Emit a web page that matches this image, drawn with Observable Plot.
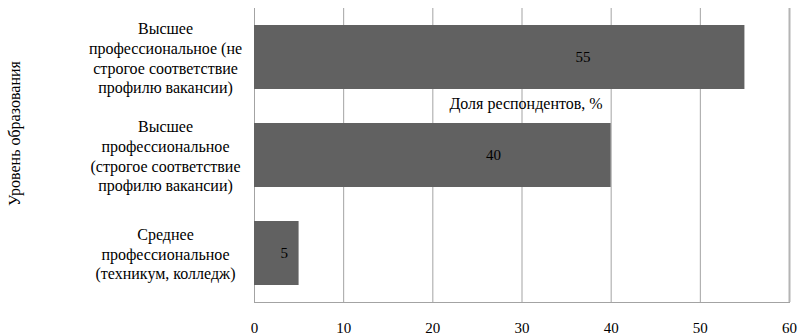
<!DOCTYPE html>
<html>
<head>
<meta charset="utf-8">
<script src="https://cdn.jsdelivr.net/npm/d3@7"></script>
<script src="https://cdn.jsdelivr.net/npm/@observablehq/plot@0.6"></script>
<style>
  html, body { margin: 0; padding: 0; background: #fff; }
  #chart { width: 798px; height: 336px; }
</style>
</head>
<body>
<div id="chart"></div>
<script>
// Education level categories, top to bottom
const categories = [
  "Высшее\nпрофессиональное (не\nстрогое соответствие\nпрофилю вакансии)",
  "Высшее\nпрофессиональное\n(строгое соответствие\nпрофилю вакансии)",
  "Среднее\nпрофессиональное\n(техникум, колледж)"
];
// Share of respondents, %
const shares = [55, 40, 5];
const xTicks = [0, 10, 20, 30, 40, 50, 60];
const xTitle = "Доля респондентов, %";
const yTitle = "Уровень образования";

const data = categories.map((c, i) => ({category: c, share: shares[i]}));

const gridColor = "#a3a3a3";
const barColor = "#616161";
const serif = "'Liberation Serif', 'Times New Roman', serif";
const fsText = 16;
const fsNum = 15;

const chart = Plot.plot({
  width: 798,
  height: 336,
  marginTop: 8,
  marginBottom: 34,
  marginLeft: 254,
  marginRight: 9,
  x: {domain: [0, 60]},
  y: {domain: categories, paddingInner: 0.35, paddingOuter: 0.175},
  marks: [
    Plot.ruleX(xTicks.slice(0, -1), {stroke: gridColor, strokeWidth: 1}),
    Plot.ruleX(xTicks.slice(-1), {stroke: "#b4b4b4", strokeWidth: 2}),
    Plot.frame({anchor: "bottom", stroke: gridColor}),
    Plot.barX(data, {x: "share", y: "category", fill: barColor}),
    Plot.text(data, {x: d => d.share * 0.67, y: "category", text: d => String(d.share), fill: "#000", fontSize: fsNum}),
    Plot.axisX(xTicks, {tickSize: 0, tickPadding: 20, label: null, tickFormat: d => String(d), fill: "#000", fontSize: fsNum}),
    Plot.axisY({tickSize: 0, tickPadding: 89, textAnchor: "middle", label: null, lineHeight: 1.22, fill: "#000", fontSize: fsText}),
    Plot.text([xTitle], {frameAnchor: "top", lineAnchor: "middle", dx: 4, dy: 95, fill: "#000", fontSize: fsText}),
    Plot.text([yTitle], {frameAnchor: "left", textAnchor: "middle", rotate: -90, dx: -240, dy: -22, fill: "#000", fontSize: fsText})
  ]
});

// Serif typeface for every label
d3.select(chart).selectAll("text, tspan").style("font-family", serif);
d3.select(chart).selectAll("[font-size]").each(function() {
  d3.select(this).style("font-size", this.getAttribute("font-size") + "px");
});

document.getElementById("chart").appendChild(chart);
</script>
</body>
</html>
